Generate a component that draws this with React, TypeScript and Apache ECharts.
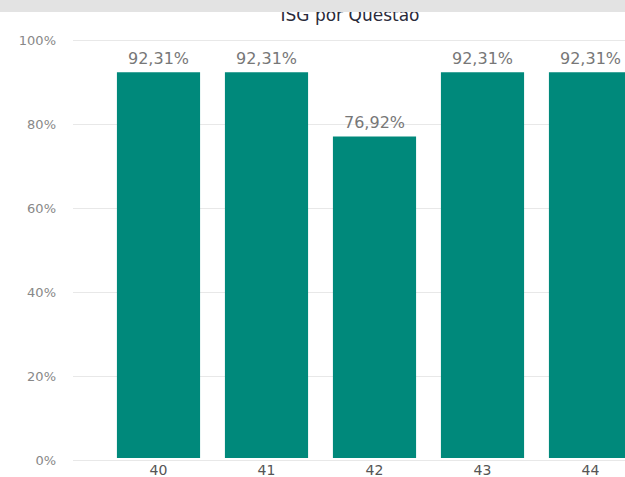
import React, { useEffect, useRef } from "react";
import * as echarts from "echarts";

const categories = ["40", "41", "42", "43", "44"];
const values = [92.31, 92.31, 76.92, 92.31, 92.31];
const titleText = "ISG por Questão";

export default function App() {
  const ref = useRef<HTMLDivElement>(null);
  useEffect(() => {
    const chart = echarts.init(ref.current!, null, { renderer: "svg" });
    const font = "DejaVu Sans";
    chart.setOption({
      animation: false,
      backgroundColor: "#ffffff",
      title: {
        text: titleText,
        left: 345,
        textAlign: "center",
        top: 1,
        textStyle: { fontFamily: font, fontSize: 17, fontWeight: "normal", color: "#2b2b3b" },
      },
      graphic: [
        {
          type: "rect",
          left: 0,
          top: 0,
          z: 100,
          shape: { width: 700, height: 12 },
          style: { fill: "#e3e3e3" },
        },
      ],
      grid: [
        { left: 73, top: 40, bottom: 17, width: 628 },
        { left: 104.5, top: 40, bottom: 17, width: 540 },
      ],
      xAxis: [
        { type: "value", gridIndex: 0, show: false, min: 0, max: 1 },
        {
          type: "category",
          gridIndex: 1,
          data: categories,
          axisLine: { show: false },
          axisTick: { show: false },
          axisLabel: { fontFamily: font, fontSize: 14, color: "#555", margin: 5 },
        },
      ],
      yAxis: [
        {
          type: "value",
          gridIndex: 0,
          min: 0,
          max: 100,
          interval: 20,
          axisLine: { show: false },
          axisTick: { show: false },
          splitLine: { lineStyle: { color: "#e8e8e8", width: 1 } },
          axisLabel: {
            fontFamily: font,
            fontSize: 13,
            color: "#888",
            margin: 17,
            formatter: (v: number) => v + "%",
          },
        },
        {
          type: "value",
          gridIndex: 1,
          min: 0,
          max: 100,
          show: false,
          splitLine: { show: false },
        },
      ],
      series: [
        {
          type: "bar",
          xAxisIndex: 1,
          yAxisIndex: 1,
          data: values,
          barCategoryGap: "23%",
          itemStyle: { color: "#00897b" },
          label: {
            show: true,
            position: "top",
            distance: 6,
            fontFamily: font,
            fontSize: 16,
            color: "#777",
            formatter: (p: any) => p.value.toFixed(2).replace(".", ",") + "%",
          },
        },
      ],
    });
    return () => chart.dispose();
  }, []);
  return (
    <div
      ref={ref}
      style={{ position: "absolute", left: 0, top: 0, width: 700, height: 477 }}
    />
  );
}
